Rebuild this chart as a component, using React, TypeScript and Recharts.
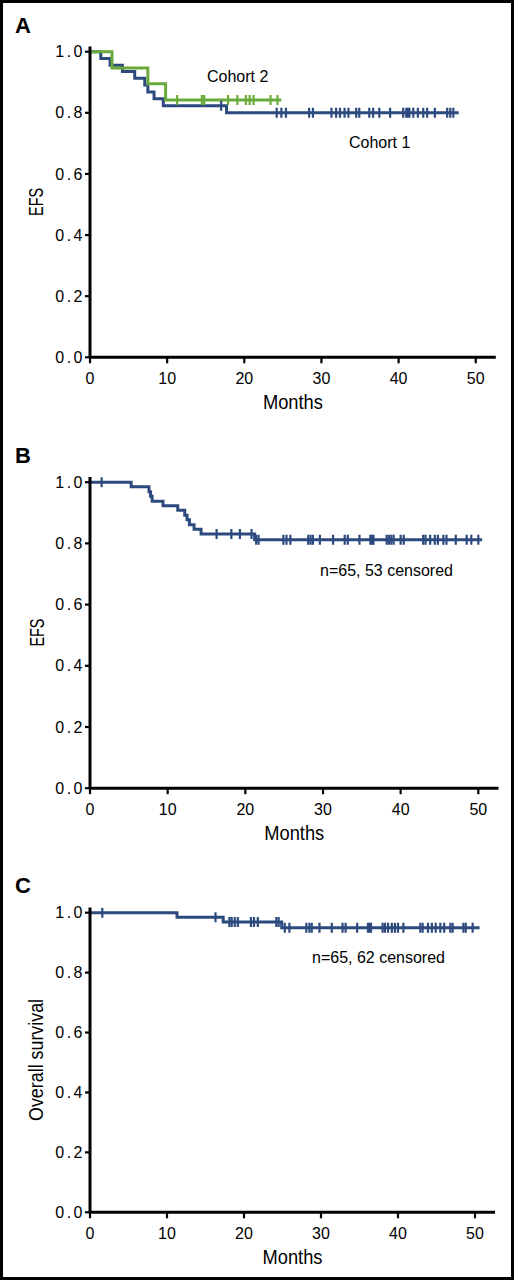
import {
  ComposedChart,
  Label,
  Line,
  Scatter,
  XAxis,
  YAxis,
} from "recharts";

// Kaplan-Meier step curves: event times (months) and survival after each step
const A_COHORT1_TIMES = [0, 1.4, 2.6, 4.2, 5.8, 7.1, 7.5, 8.3, 9.5, 17.7, 47.8];
const A_COHORT1_SURV = [1.0, 0.978, 0.956, 0.935, 0.913, 0.891, 0.868, 0.846, 0.823, 0.8, 0.8];
const A_COHORT1_CENSORED = [
  17.0, 24.2, 24.8, 25.4, 28.4, 28.9, 31.3, 31.9, 32.4, 33.0, 33.5, 34.5, 34.9,
  36.2, 36.7, 37.5, 38.9, 40.6, 41.0, 41.2, 41.4, 41.9, 42.5, 43.2, 43.7, 44.7,
  46.3, 46.7, 47.1,
];

const A_COHORT2_TIMES = [0, 2.85, 7.5, 9.8, 24.8];
const A_COHORT2_SURV = [1.0, 0.947, 0.895, 0.842, 0.842];
const A_COHORT2_CENSORED = [11.3, 14.5, 14.8, 17.9, 19.1, 20.2, 20.7, 21.2, 23.4, 24.3];

const B_TIMES = [0, 5.3, 7.6, 7.8, 8.0, 9.4, 11.3, 12.2, 12.5, 12.8, 13.4, 14.3, 21.2, 50.5];
const B_SURV = [
  1.0, 0.985, 0.969, 0.954, 0.938, 0.923, 0.908, 0.892, 0.877, 0.861, 0.846, 0.831,
  0.812, 0.812,
];
const B_CENSORED = [
  1.5, 16.3, 18.2, 19.3, 20.8, 21.4, 21.7, 24.9, 25.3, 25.8, 28.1, 28.4, 28.7,
  29.6, 31.3, 32.8, 33.2, 34.7, 36.1, 36.3, 36.5, 38.2, 38.5, 38.8, 39.1, 40.0,
  40.4, 42.9, 43.2, 43.8, 44.4, 44.8, 45.5, 45.9, 47.1, 48.5, 49.1, 50.0,
];

const C_TIMES = [0, 11.3, 17.3, 24.9, 50.6];
const C_SURV = [1.0, 0.985, 0.969, 0.95, 0.95];
const C_CENSORED = [
  1.6, 16.3, 18.1, 18.4, 18.8, 19.2, 20.9, 21.3, 21.8, 24.2, 24.5, 25.3, 25.9,
  28.1, 28.5, 28.8, 29.8, 31.4, 32.8, 33.2, 34.7, 36.1, 36.3, 36.5, 38.0, 38.3,
  38.7, 39.2, 39.6, 40.0, 40.7, 42.9, 43.2, 43.9, 44.4, 44.9, 45.5, 46.0, 46.8,
  47.1, 48.5, 48.8, 49.7,
];

const X_TICKS = [0, 10, 20, 30, 40, 50];
const Y_TICKS = [0, 0.2, 0.4, 0.6, 0.8, 1.0];

const BLUE = "#2d4a7e";
const GREEN = "#6aaa3c";
const FONT = "'Liberation Sans', Arial, Helvetica, sans-serif";
const NARROW = "'Liberation Sans Narrow', 'Liberation Sans', Arial, sans-serif";

type Point = { t: number; s: number };

function toSteps(times: number[], surv: number[]): Point[] {
  return times.map((t, i) => ({ t, s: surv[i] }));
}

// censor marks sit on the curve level in force at that time
function toCensors(censored: number[], times: number[], surv: number[]): Point[] {
  return censored.map((c) => {
    let s = surv[0];
    times.forEach((t, i) => {
      if (t <= c) s = surv[i];
    });
    return { t: c, s };
  });
}

type Series = { key: string; curve: Point[]; censors: Point[]; color: string };

type PanelProps = {
  top: number;
  plotTop: number;
  plotHeight: number;
  plotWidth: number;
  yLabel: string;
  yLabelLength: number;
  series: Series[];
};

function CensorTick(props: any) {
  const { cx, cy, fill } = props;
  if (cx == null || cy == null) return null;
  return (
    <line x1={cx} x2={cx} y1={cy - 5} y2={cy + 5} stroke={fill} strokeWidth={2.2} />
  );
}

function YTick(props: any) {
  const { x, y, payload } = props;
  return (
    <text
      x={x}
      y={y}
      dy="0.355em"
      textAnchor="end"
      fontFamily={FONT}
      fontSize={16}
      letterSpacing={2.5}
      fill="#000"
    >
      {Number(payload.value).toFixed(1)}
    </text>
  );
}

function KMPanel({ top, plotTop, plotHeight, plotWidth, yLabel, yLabelLength, series }: PanelProps) {
  const width = 514;
  const axisHeight = 60;
  const height = plotTop + plotHeight + axisHeight;
  return (
    <div style={{ position: "absolute", left: 0, top, width, height }}>
      <ComposedChart
        width={width}
        height={height}
        margin={{ top: plotTop, right: width - 90 - plotWidth, bottom: 0, left: 0 }}
      >
        <XAxis
          type="number"
          dataKey="t"
          domain={[0, 52.6]}
          ticks={X_TICKS}
          interval={0}
          allowDataOverflow
          height={axisHeight}
          tickSize={6}
          tickMargin={9}
          tick={{ fill: "#000", fontSize: 16, fontFamily: FONT }}
          axisLine={{ stroke: "#000", strokeWidth: 3 }}
          tickLine={{ stroke: "#000", strokeWidth: 2.2 }}
        >
          <Label
            content={(p: any) => {
              const vb = p.viewBox || {};
              return (
                <text
                  x={vb.x + vb.width / 2}
                  y={vb.y + 52}
                  textAnchor="middle"
                  fontFamily={NARROW}
                  fontSize={20}
                  textLength={60}
                  lengthAdjust="spacingAndGlyphs"
                  fill="#000"
                >
                  Months
                </text>
              );
            }}
          />
        </XAxis>
        <YAxis
          type="number"
          dataKey="s"
          domain={[0, 1.017]}
          ticks={Y_TICKS}
          interval={0}
          allowDataOverflow
          width={90}
          tickSize={5}
          tickMargin={0}
          tick={<YTick />}
          axisLine={{ stroke: "#000", strokeWidth: 3 }}
          tickLine={{ stroke: "#000", strokeWidth: 2.2 }}
        >
          <Label
            content={(p: any) => {
              const vb = p.viewBox || {};
              const cx = 43.5;
              const cy = vb.y + vb.height / 2;
              return (
                <text
                  x={cx}
                  y={cy}
                  textAnchor="middle"
                  transform={`rotate(-90, ${cx}, ${cy})`}
                  fontFamily={NARROW}
                  fontSize={20}
                  textLength={yLabelLength}
                  lengthAdjust="spacingAndGlyphs"
                  fill="#000"
                >
                  {yLabel}
                </text>
              );
            }}
          />
        </YAxis>
        {series.map((s) => (
          <Line
            key={`${s.key}-curve`}
            data={s.curve}
            dataKey="s"
            type="stepAfter"
            stroke={s.color}
            strokeWidth={3}
            dot={false}
            activeDot={false}
            isAnimationActive={false}
          />
        ))}
        {series.map((s) => (
          <Scatter
            key={`${s.key}-censor`}
            data={s.censors}
            dataKey="s"
            fill={s.color}
            shape={CensorTick}
            isAnimationActive={false}
          />
        ))}
      </ComposedChart>
    </div>
  );
}

export default function App() {
  const seriesA: Series[] = [
    {
      key: "cohort1",
      curve: toSteps(A_COHORT1_TIMES, A_COHORT1_SURV),
      censors: toCensors(A_COHORT1_CENSORED, A_COHORT1_TIMES, A_COHORT1_SURV),
      color: BLUE,
    },
    {
      key: "cohort2",
      curve: toSteps(A_COHORT2_TIMES, A_COHORT2_SURV),
      censors: toCensors(A_COHORT2_CENSORED, A_COHORT2_TIMES, A_COHORT2_SURV),
      color: GREEN,
    },
  ];
  const seriesB: Series[] = [
    {
      key: "efs",
      curve: toSteps(B_TIMES, B_SURV),
      censors: toCensors(B_CENSORED, B_TIMES, B_SURV),
      color: BLUE,
    },
  ];
  const seriesC: Series[] = [
    {
      key: "os",
      curve: toSteps(C_TIMES, C_SURV),
      censors: toCensors(C_CENSORED, C_TIMES, C_SURV),
      color: BLUE,
    },
  ];

  return (
    <div
      style={{
        position: "absolute",
        left: 0,
        top: 0,
        width: 514,
        height: 1280,
        background: "#fff",
        overflow: "hidden",
      }}
    >
      <KMPanel
        top={0}
        plotTop={46.5}
        plotHeight={310.8}
        plotWidth={405.8}
        yLabel="EFS"
        yLabelLength={28}
        series={seriesA}
      />
      <KMPanel
        top={420}
        plotTop={57}
        plotHeight={311.2}
        plotWidth={408.5}
        yLabel="EFS"
        yLabelLength={28}
        series={seriesB}
      />
      <KMPanel
        top={850}
        plotTop={57.6}
        plotHeight={304.7}
        plotWidth={405}
        yLabel="Overall survival"
        yLabelLength={122}
        series={seriesC}
      />
      <svg
        width={514}
        height={1280}
        style={{ position: "absolute", left: 0, top: 0, pointerEvents: "none" }}
      >
        <g fontFamily={FONT} fontWeight="bold" fontSize={22} fill="#000">
          <text x={15} y={33.3}>A</text>
          <text x={15} y={462.7}>B</text>
          <text x={15} y={893}>C</text>
        </g>
        <g fontFamily={FONT} fontSize={16} fill="#000">
          <text x={207} y={81.6}>Cohort 2</text>
          <text x={349} y={148.3}>Cohort 1</text>
          <text x={320} y={576}>n=65, 53 censored</text>
          <text x={312} y={963.3}>n=65, 62 censored</text>
        </g>
      </svg>
      <div
        style={{
          position: "absolute",
          inset: 0,
          border: "3px solid #000",
          boxSizing: "border-box",
          pointerEvents: "none",
        }}
      />
    </div>
  );
}
